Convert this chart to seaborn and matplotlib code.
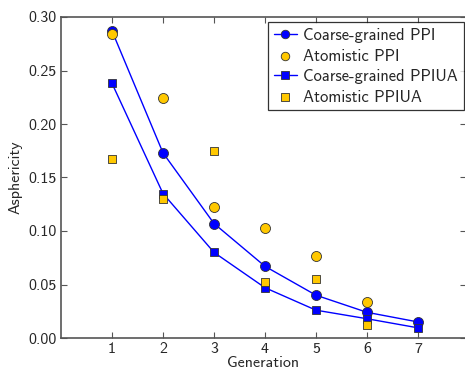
import numpy as np
import pandas as pd
import matplotlib
matplotlib.use("Agg")
import matplotlib.pyplot as plt
import seaborn as sns

generation = [1, 2, 3, 4, 5, 6, 7]
cg_ppi = [0.287, 0.173, 0.107, 0.067, 0.040, 0.024, 0.015]
at_ppi = [0.284, 0.224, 0.122, 0.103, 0.077, 0.034, np.nan]
cg_ppiua = [0.238, 0.135, 0.080, 0.047, 0.026, 0.018, 0.0095]
at_ppiua = [0.167, 0.130, 0.175, 0.052, 0.055, 0.012, np.nan]

sns.set_style("ticks")
plt.rcParams["font.family"] = ["cmss10", "DejaVu Sans"]
plt.rcParams["axes.unicode_minus"] = False

BLUE = "#0000ff"
GOLD = "#ffc800"
EDGE = "#333333"

fig = plt.figure(figsize=(4.65, 3.72), dpi=100)
ax = fig.add_axes([61 / 465, 34 / 372, 405 / 465, 321 / 372])

df = pd.DataFrame({"gen": generation, "cg_ppi": cg_ppi, "at_ppi": at_ppi,
                   "cg_ppiua": cg_ppiua, "at_ppiua": at_ppiua})

ms = 7.2
sq = 6.4
sns.lineplot(data=df, x="gen", y="cg_ppi", ax=ax, color=BLUE, lw=1.0,
             marker="o", markersize=ms, markeredgecolor=EDGE, markeredgewidth=0.6,
             label="Coarse-grained PPI", zorder=3)
sns.scatterplot(data=df, x="gen", y="at_ppi", ax=ax, color=GOLD, s=ms**2,
                marker="o", edgecolor=EDGE, linewidth=0.6,
                label="Atomistic PPI", zorder=4)
sns.lineplot(data=df, x="gen", y="cg_ppiua", ax=ax, color=BLUE, lw=1.0,
             marker="s", markersize=sq, markeredgecolor=EDGE, markeredgewidth=0.6,
             label="Coarse-grained PPIUA", zorder=5)
sns.scatterplot(data=df, x="gen", y="at_ppiua", ax=ax, color=GOLD, s=sq**2,
                marker="s", edgecolor=EDGE, linewidth=0.6,
                label="Atomistic PPIUA", zorder=6)

ax.set_xlim(0, 405 / 51.0)
ax.set_ylim(0, 0.30)
ax.set_xticks(generation)
ax.set_yticks(np.arange(0, 0.301, 0.05))
ax.set_yticklabels([f"{v:.2f}" for v in np.arange(0, 0.301, 0.05)])
ax.set_xlabel("Generation", fontsize=11.5, labelpad=0)
ax.set_ylabel("Asphericity", fontsize=11.5, labelpad=4)

for s in ax.spines.values():
    s.set_color("#555555")
    s.set_linewidth(1.2)
ax.tick_params(direction="in", length=4, width=0.8, color="#555555",
               labelsize=11.5, top=True, right=True, pad=3)

leg = ax.legend(loc="upper right", bbox_to_anchor=(1 - 2 / 405, 1 - 5.5 / 321),
                borderaxespad=0, fontsize=11.9,
                frameon=True, fancybox=False, edgecolor="black",
                handlelength=1.4, handletextpad=0.4, borderpad=0.35,
                labelspacing=0.33, markerscale=0.85)
leg.get_frame().set_linewidth(0.9)

fig.savefig("out.png", dpi=100)
